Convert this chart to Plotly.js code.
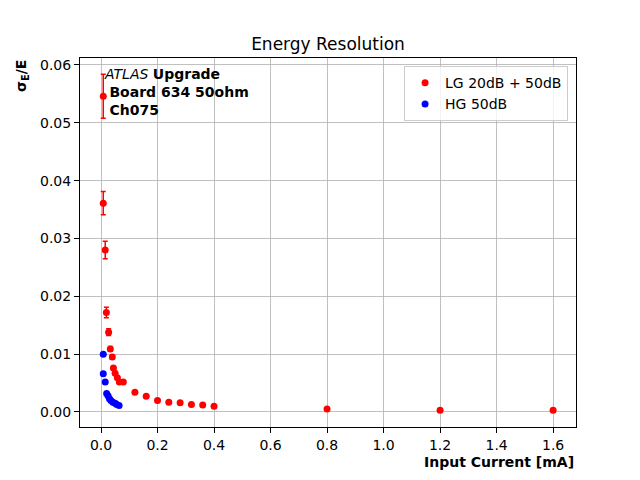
<!DOCTYPE html>
<html>
<head>
<meta charset="utf-8">
<script src="https://cdn.plot.ly/plotly-3.0.1.min.js"></script>
<style>html,body{margin:0;padding:0;background:#fff;}#chart{width:640px;height:480px;}</style>
</head>
<body>
<div id="chart"></div>
<script>
// Data
const lgName = "LG 20dB + 50dB";
const lgCurrent = [0.008, 0.008, 0.015, 0.019, 0.027, 0.033, 0.040, 0.044, 0.050, 0.058, 0.065, 0.079, 0.12, 0.16, 0.20, 0.24, 0.28, 0.32, 0.36, 0.40, 0.80, 1.20, 1.60];
const lgRes = [0.0546, 0.0361, 0.0280, 0.0172, 0.0138, 0.0109, 0.0095, 0.0076, 0.0067, 0.0059, 0.0052, 0.0052, 0.0034, 0.0027, 0.0020, 0.0017, 0.0016, 0.0013, 0.0012, 0.0010, 0.0005, 0.0003, 0.0003];
const lgErr = [0.0038, 0.0020, 0.0015, 0.0009, 0.0006, 0.0004, 0.0003, 0.0003, 0.0002, 0.0002, 0.0002, 0.0001, 0.0001, 0.0001, 0.0001, 0.0001, 0.0001, 0.0001, 0.0001, 0.0001, 0.0001, 0.0001, 0.0001];

const hgName = "HG 50dB";
const hgCurrent = [0.008, 0.008, 0.015, 0.020, 0.025, 0.030, 0.035, 0.042, 0.050, 0.056, 0.064];
const hgRes = [0.0100, 0.0066, 0.0052, 0.0032, 0.0028, 0.0023, 0.0020, 0.0017, 0.0015, 0.0013, 0.0011];
const hgErr = [0.0001, 0.0001, 0.0001, 0.0001, 0.0001, 0.0001, 0.0001, 0.0001, 0.0001, 0.0001, 0.0001];

const yTicks = [0.00, 0.01, 0.02, 0.03, 0.04, 0.05, 0.06];
const xTicks = [0.0, 0.2, 0.4, 0.6, 0.8, 1.0, 1.2, 1.4, 1.6];

const font = "DejaVu Sans, sans-serif";

const traces = [
  {
    x: lgCurrent, y: lgRes, name: lgName, type: "scatter", mode: "markers",
    marker: {color: "red", size: 7},
    error_y: {type: "data", array: lgErr, visible: true, color: "red", thickness: 1.5, width: 2.5}
  },
  {
    x: hgCurrent, y: hgRes, name: hgName, type: "scatter", mode: "markers",
    marker: {color: "blue", size: 7},
    error_y: {type: "data", array: hgErr, visible: true, color: "blue", thickness: 1.5, width: 2.5}
  }
];

const layout = {
  width: 640, height: 480,
  margin: {l: 80, r: 64, t: 58, b: 53, pad: 0},
  paper_bgcolor: "#fff", plot_bgcolor: "#fff",
  font: {family: font, size: 14, color: "#000"},
  title: {text: "Energy Resolution", font: {family: font, size: 17, color: "#000"}, xref: "paper", x: 0.5, xanchor: "center", y: 0.908, yanchor: "middle"},
  showlegend: true,
  legend: {x: 0.984, y: 0.978, xanchor: "right", yanchor: "top", bgcolor: "rgba(255,255,255,0.8)", bordercolor: "#cccccc", borderwidth: 1, font: {family: font, size: 14}, itemwidth: 30},
  xaxis: {
    range: [-0.0743, 1.681], tickvals: xTicks, ticktext: xTicks.map(v => v.toFixed(1)),
    showgrid: true, gridcolor: "#b0b0b0", gridwidth: 0.8, zeroline: false,
    showline: true, linecolor: "#000", linewidth: 1, mirror: true,
    ticks: "outside", ticklen: 5, tickcolor: "#000", tickfont: {family: font, size: 14}
  },
  yaxis: {
    range: [-0.0026, 0.0612], tickvals: yTicks, ticktext: yTicks.map(v => v.toFixed(2)),
    showgrid: true, gridcolor: "#b0b0b0", gridwidth: 0.8, zeroline: false,
    showline: true, linecolor: "#000", linewidth: 1, mirror: true,
    ticks: "outside", ticklen: 5, tickcolor: "#000", tickfont: {family: font, size: 14}
  },
  annotations: [
    {xref: "paper", yref: "paper", x: 1, y: -0.068, xanchor: "right", yanchor: "top", showarrow: false,
     text: "<b>Input Current [mA]</b>", font: {family: font, size: 14}},
    {xref: "paper", yref: "paper", x: -0.117, y: 1.0, xanchor: "center", yanchor: "top", showarrow: false, textangle: -90,
     text: "<b>σ<sub>E</sub>/E</b>", font: {family: font, size: 14}},
    {xref: "paper", yref: "paper", x: 0.045, y: 0.985, xanchor: "left", yanchor: "top", showarrow: false, align: "left",
     text: "<i>ATLAS</i> <b>Upgrade</b><br> <b>Board 634 50ohm</b><br> <b>Ch075</b>", font: {family: font, size: 14}}
  ]
};

Plotly.newPlot("chart", traces, layout, {displayModeBar: false, staticPlot: true});
</script>
</body>
</html>
